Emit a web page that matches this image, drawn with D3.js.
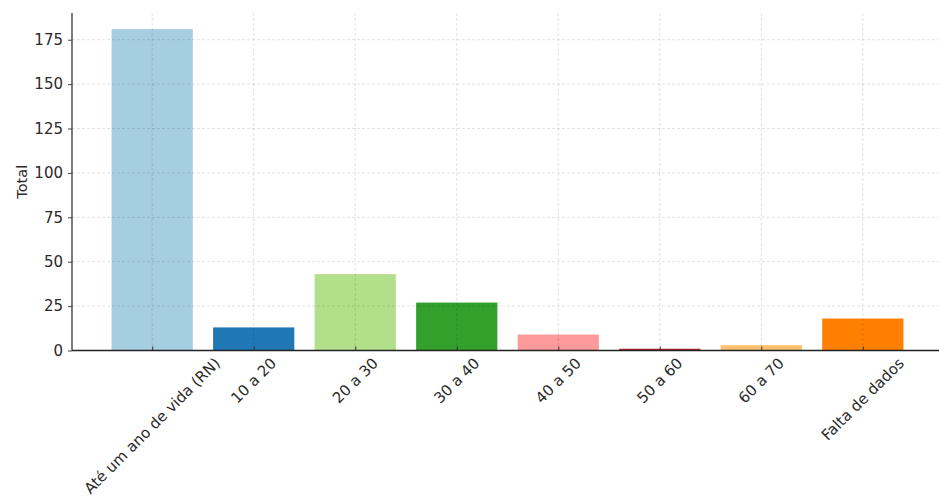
<!DOCTYPE html>
<html><head><meta charset="utf-8">
<script src="https://cdn.jsdelivr.net/npm/d3@7"></script>
<style>
body{margin:0;background:#fff;}
svg{display:block;font-family:"DejaVu Sans",sans-serif;}
</style></head>
<body><svg id="c" width="939" height="499"></svg>
<script>
const categories = ["Até um ano de vida (RN)","10 a 20","20 a 30","30 a 40","40 a 50","50 a 60","60 a 70","Falta de dados"];
const values = [181, 13, 43, 27, 9, 1, 3, 18];
const colors = ["#a6cee3","#1f78b4","#b2df8a","#33a02c","#fb9a99","#b02a36","#fdbf6f","#ff7f00"];
const yTicks = [0,25,50,75,100,125,150,175];
const yLabel = "Total";

(function(){
const svg = d3.select("#c");
const mLeft = 72, mRight = 943, mTop = 13, mBottom = 350.5;
const x = d3.scaleLinear().domain([-0.79, categories.length - 1 + 0.79]).range([mLeft, mRight]);
const y = d3.scaleLinear().domain([0, d3.max(values) * 1.05]).range([mBottom, mTop]);
const bw = x(0.8) - x(0);

// bars
svg.append("g").selectAll("rect").data(values).join("rect")
  .attr("x", (d,i) => x(i) - bw/2)
  .attr("width", bw)
  .attr("y", d => y(d))
  .attr("height", d => y(0) - y(d))
  .attr("fill", (d,i) => colors[i]);

// grid
const grid = svg.append("g").attr("stroke", "rgba(0,0,0,0.15)").attr("stroke-width", 0.8).attr("stroke-dasharray", "3,2");
grid.selectAll("line.h").data(yTicks).join("line").attr("class","h")
  .attr("x1", mLeft).attr("x2", mRight).attr("y1", d => y(d)).attr("y2", d => y(d));
grid.selectAll("line.v").data(categories).join("line").attr("class","v")
  .attr("x1", (d,i) => x(i)).attr("x2", (d,i) => x(i)).attr("y1", mTop).attr("y2", mBottom);

// y axis
const yAxis = svg.append("g").attr("transform", `translate(${mLeft},0)`)
  .call(d3.axisLeft(y).tickValues(yTicks).tickSize(4).tickPadding(5));
yAxis.select(".domain").attr("stroke", "#444").attr("stroke-width", 1.4).attr("d", `M0,${mTop}V${mBottom}`);
yAxis.selectAll(".tick line").attr("stroke", "#444");
yAxis.selectAll(".tick text").attr("fill", "#2a2a2a").style("font-size", "15px").style("font-family", "DejaVu Sans");

// x axis
const xAxis = svg.append("g").attr("transform", `translate(0,${mBottom})`)
  .call(d3.axisBottom(x).tickValues(d3.range(categories.length)).tickSize(-4).tickFormat(""));
xAxis.select(".domain").attr("stroke", "#222").attr("stroke-width", 1.3).attr("d", `M${mLeft},0H${mRight}`);
xAxis.selectAll(".tick line").attr("stroke", "#333");

// rotated x labels (bbox centered on tick)
const fs = 15;
const lbl = svg.append("g").selectAll("text").data(categories).join("text")
  .text(d => d)
  .attr("fill", "#2a2a2a")
  .style("font-size", fs + "px")
  .attr("text-anchor", "middle")
  .attr("dominant-baseline", "central");
lbl.each(function(d,i){
  const L = this.getComputedTextLength();
  const h = (L + fs * 1.15) * Math.SQRT1_2;
  const cx = x(i), cy = mBottom + 4 + h/2;
  d3.select(this).attr("transform", `translate(${cx},${cy}) rotate(-45)`);
});

// y label
svg.append("text").text(yLabel)
  .attr("transform", `translate(22,${(mTop+mBottom)/2}) rotate(-90)`)
  .attr("text-anchor", "middle").attr("dominant-baseline", "central")
  .attr("fill", "#2a2a2a").style("font-size", "14.5px");
})();
</script></body></html>
